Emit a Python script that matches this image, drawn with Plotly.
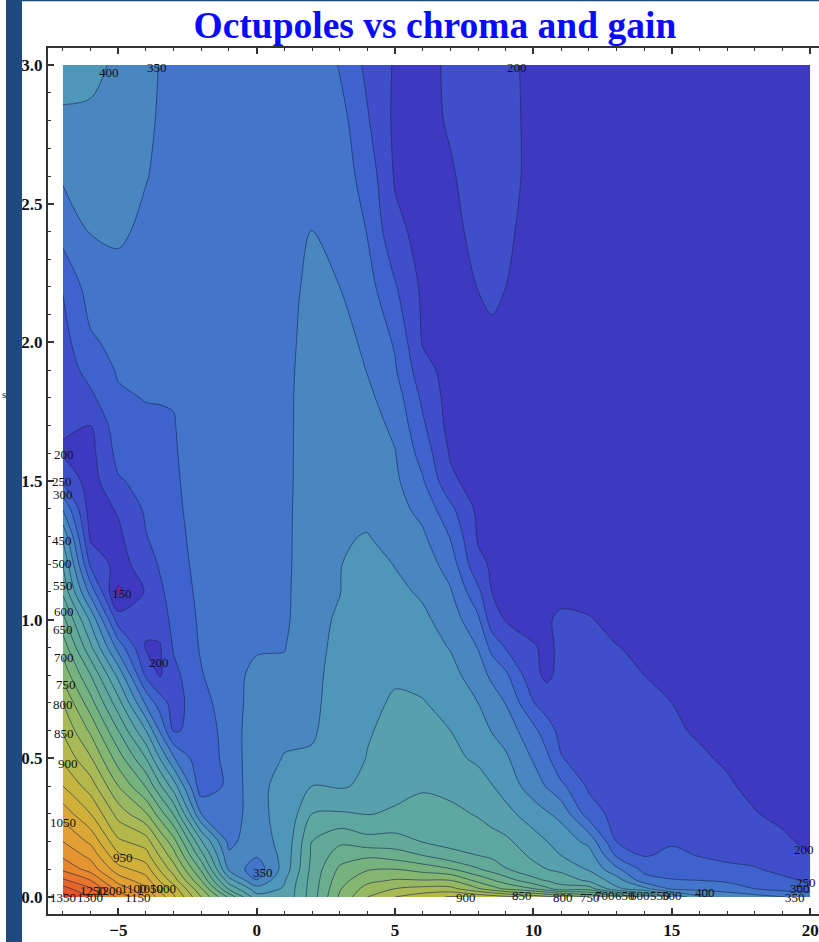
import numpy as np
import plotly.graph_objects as go

x_grid = [-7, -6, -5, -4, -3.5, -3, -2, -1, 0, 1, 2, 3, 4, 5, 6, 7, 8, 8.5, 9, 10, 10.5, 11, 12, 13, 14, 15, 16, 17, 18, 19, 20]
y_grid = [0, .03, .06, .1, .15, .2, .3, .4, .5, .6, .7, .8, .9, 1.0, 1.1, 1.2, 1.3, 1.4, 1.5, 1.6, 1.7, 1.8, 1.9, 2.0, 2.2, 2.4, 2.6, 2.8, 3.0]

col_m7 = [1375,1320,1260,1190,1140,1100,1030,950,890,845,800,735,680,615,540,500,440,345,240,195,205,214,223,232,253,320,356,390,425]
col_m6 = [1300,1255,1200,1130,1085,1040,950,875,805,740,670,600,510,440,330,240,190,175,178,185,200,240,268,292,325,352,368,392,412]
col_m5 = [1190,1130,1080,1020,960,910,830,750,675,600,520,435,330,225,140,180,190,205,245,265,278,293,305,315,332,358,372,385,392]
col_m4 = [1100,1060,1020,975,920,875,755,645,550,450,340,240,195,215,205,225,248,258,265,278,290,302,312,320,328,340,352,358,358]
col_m3h = [1030,990,945,895,845,795,675,560,450,345,275,195,195,222,240,255,265,272,278,286,294,302,310,316,324,332,342,346,349]
col_m3 = [960,925,875,825,770,720,595,475,355,245,230,235,255,265,272,280,285,290,293,296,298,302,308,312,320,325,333,335,340]
col_m2 = [800,755,700,640,570,505,350,268,262,265,280,297,305,308,312,315,318,320,322,322,325,325,326,327,330,331,333,335,338]
col_m1 = [640,540,470,390,360,335,305,310,320,325,330,333,332,333,333,335,335,335,335,335,335,335,335,335,335,335,335,335,335]
col_0 = [470,420,352,320,355,385,396,390,383,378,368,362,345,335,333,333,333,333,333,333,333,333,333,333,333,333,333,332,332]
col_1 = [460,455,445,420,415,410,405,412,402,392,375,360,348,340,338,336,335,334,333,333,333,333,333,333,333,333,332,332,330]
col_2 = [575,572,570,565,558,550,500,450,405,395,392,390,388,388,388,388,388,388,386,385,384,383,378,372,362,352,325,326,325]
col_3 = [708,695,680,660,625,590,505,445,422,420,416,414,410,405,399,398,396,393,392,390,389,388,382,372,350,335,325,320,298]
col_4 = [800,770,735,695,640,568,498,458,452,446,440,436,432,428,425,420,402,388,380,375,370,360,348,338,320,298,280,255,238]
col_5 = [850,800,755,700,625,570,505,488,475,463,455,445,435,425,412,398,382,368,360,352,340,325,305,295,255,212,195,190,195]
col_6 = [880,815,752,680,600,548,525,492,478,465,452,440,425,410,393,378,358,335,305,280,258,240,218,196,190,185,185,185,185]
col_7 = [905,815,750,655,565,535,515,482,465,450,438,418,397,378,355,328,297,262,210,195,182,180,180,180,180,185,195,205,208]
col_8 = [892,755,685,605,550,530,495,475,440,418,400,372,348,310,262,210,195,188,178,178,178,178,182,186,201,215,220,218,215]
col_8h = [880,720,655,580,540,520,480,452,425,398,375,340,285,222,200,195,188,182,176,176,176,176,182,193,207,222,226,224,220]
col_9 = [865,690,625,553,530,510,465,430,408,378,348,310,247,197,195,185,180,178,175,175,175,175,175,180,200,210,215,212,208]
col_10 = [835,650,565,515,490,470,425,375,345,315,252,212,205,178,174,172,172,172,172,172,172,172,174,174,176,180,188,190,192]
col_10h = [815,610,545,500,470,450,405,345,310,270,228,190,188,197,182,174,172,172,170,170,170,170,172,172,172,176,180,184,185]
col_11 = [800,570,530,487,450,432,385,312,253,235,220,215,212,205,192,180,175,172,170,170,170,170,170,170,170,170,172,175,178]
col_12 = [750,575,490,445,425,385,275,242,225,218,215,212,208,202,190,178,172,170,170,170,170,170,170,170,170,170,170,170,170]
col_13 = [670,460,425,362,292,250,232,228,222,216,210,205,201,192,182,175,170,170,170,170,170,170,170,170,170,170,170,170,170]
col_14 = [590,415,322,285,246,235,226,220,215,212,206,200,195,185,178,172,168,168,168,168,168,168,168,168,168,168,168,168,168]
col_15 = [500,340,302,285,260,245,232,222,212,205,200,195,188,180,175,170,165,165,165,165,165,165,165,165,165,165,165,165,165]
col_16 = [410,335,300,270,248,235,222,212,205,196,188,182,176,172,168,165,165,165,165,165,165,165,165,165,165,165,165,165,165]
col_17 = [385,325,292,258,242,232,218,205,195,188,182,176,172,168,165,165,165,165,165,165,165,165,165,165,165,165,165,165,165]
col_18 = [370,300,273,253,238,225,202,190,183,178,172,168,165,165,163,163,163,163,163,163,163,163,163,163,163,163,163,163,163]
col_19 = [352,282,258,240,222,208,190,180,175,170,167,165,163,163,163,163,163,163,163,163,163,163,163,163,163,163,163,163,163]
col_20 = [335,275,245,225,203,190,178,170,167,165,163,163,160,160,160,160,160,160,160,160,160,160,160,160,160,160,160,160,160]

columns = [col_m7, col_m6, col_m5, col_m4, col_m3h, col_m3, col_m2, col_m1, col_0, col_1, col_2, col_3, col_4, col_5, col_6,
           col_7, col_8, col_8h, col_9, col_10, col_10h, col_11, col_12, col_13, col_14, col_15, col_16, col_17, col_18, col_19, col_20]

band_colors = ["#8b1f8f", "#3f38c0", "#3f4fc9", "#3f63cc", "#4375cb", "#4a86bf", "#4e97b9", "#58a0ad", "#5ea6a0",
               "#63a997", "#6aae8c", "#76b27e", "#85b670", "#97b863", "#a8b955", "#b4b84a", "#c4b53f", "#d1b03a",
               "#dca835", "#e29f33", "#e69430", "#e8862d", "#e9762a", "#e96428", "#e65427", "#e04526"]

label_text = ["400", "350", "200", "200", "250", "300", "450", "500", "550", "600", "650", "700", "750", "800", "850", "900",
              "1050", "950", "150", "200", "350", "1350", "1300", "1250", "1200", "1150", "1100", "1050", "1000",
              "900", "850", "800", "750", "700", "650", "600", "550", "500", "400", "350", "300", "250", "200"]
label_x = [-5.34, -3.60, 9.41, -6.96, -7.04, -7.0, -7.04, -7.04, -7.0, -6.96, -7.0, -6.96, -6.89, -7.0, -6.96, -6.82,
           -7.0, -4.83, -4.87, -3.53, 0.23, -7.0, -6.02, -5.9, -5.35, -4.3, -4.45, -3.85, -3.4,
           7.57, 9.59, 11.07, 12.05, 12.59, 13.31, 13.85, 14.58, 15.0, 16.2, 19.45, 19.63, 19.85, 19.78]
label_y = [2.975, 2.99, 2.99, 1.594, 1.497, 1.453, 1.284, 1.204, 1.125, 1.028, .966, .865, .768, .696, .588, .48,
           .267, .141, 1.096, .844, .087, 0, 0, .025, .025, 0, .032, .032, .032,
           0, .007, 0, 0, .007, .007, .007, .004, .007, .018, 0, .029, .054, .173]

assert all(len(c) == len(y_grid) for c in columns) and len(columns) == len(x_grid)
z = np.array(columns).T

fig = go.Figure(go.Contour(
    x=x_grid, y=y_grid, z=z,
    autocontour=False,
    contours=dict(start=150, end=1350, size=50, coloring="fill", showlabels=False),
    colorscale=[[i / (len(band_colors) - 1), c] for i, c in enumerate(band_colors)],
    line=dict(color="rgba(25,40,85,0.62)", width=1, smoothing=0.9),
    showscale=False, hoverinfo="skip",
))

for t, lx, ly in zip(label_text, label_x, label_y):
    fig.add_annotation(x=lx, y=ly, text=t, showarrow=False,
                       font=dict(family="Liberation Serif", size=13, color="#111"))

fig.add_annotation(xref="paper", yref="paper", x=-0.0622, y=0.6, text="s", showarrow=False,
                   font=dict(family="Liberation Serif", size=11, color="#222"))

axis_font = dict(family="Liberation Serif", size=17, color="#111", weight="bold")
fig.update_xaxes(range=[-7.54, 20.32], tick0=0, dtick=5, ticks="inside", ticklen=6, tickwidth=1.5, tickcolor="#333",
                 showline=True, linecolor="#333", linewidth=2, mirror="ticks", showgrid=False, zeroline=False,
                 tickfont=axis_font,
                 minor=dict(dtick=1, ticks="inside", ticklen=3, tickwidth=1, tickcolor="#333", showgrid=False))
fig.update_yaxes(range=[-0.0613, 3.0617], tick0=0, dtick=0.5, tickformat=".1f", ticks="inside", ticklen=6, tickwidth=1.5,
                 tickcolor="#333", showline=True, linecolor="#333", linewidth=2, mirror=False, showgrid=False,
                 zeroline=False, tickfont=axis_font,
                 minor=dict(dtick=0.1, ticks="inside", ticklen=3, tickwidth=1, tickcolor="#333", showgrid=False))

fig.update_layout(
    width=819, height=942, margin=dict(l=48, r=0, t=48, b=28), autosize=False,
    paper_bgcolor="white", plot_bgcolor="white", showlegend=False,
    title=dict(text="Octupoles vs chroma and gain", x=0.531, xanchor="center", y=0.974, yanchor="middle",
               font=dict(family="Liberation Serif", size=37.5, color="#0a0aff", weight="bold")),
    shapes=[
        dict(type="rect", xref="paper", yref="paper", x0=-0.0545, x1=-0.0337, y0=-0.0323, y1=1.0554,
             fillcolor="#1f4a7f", line_width=0, layer="above"),
        dict(type="rect", xref="paper", yref="paper", x0=-0.0337, x1=1.0, y0=1.0540, y1=1.0554,
             fillcolor="#1f4a7f", line_width=0, layer="above"),
    ],
)
fig.write_html("out.html", config={"displayModeBar": False},
               post_script="document.body.style.margin='0';document.body.style.overflow='hidden';")
